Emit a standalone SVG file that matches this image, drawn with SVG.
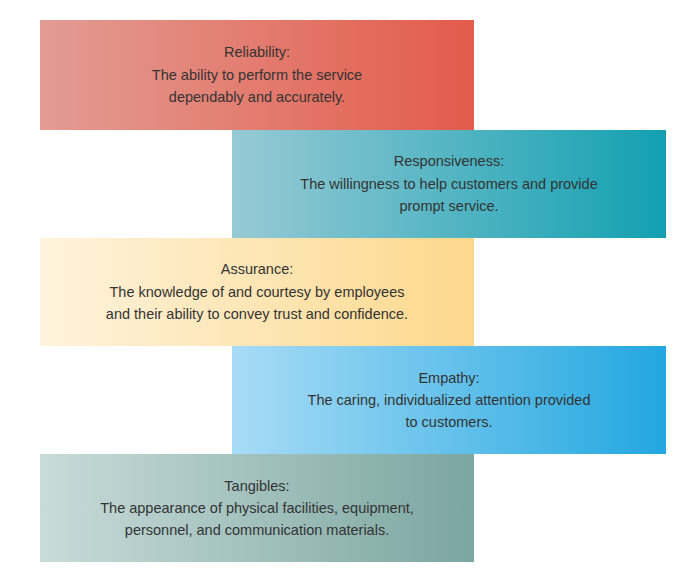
<svg xmlns="http://www.w3.org/2000/svg" width="673" height="572" viewBox="0 0 673 572">
<defs>
<linearGradient id="g1"><stop offset="0" stop-color="#e39c93"/><stop offset="1" stop-color="#e35b4b"/></linearGradient>
<linearGradient id="g2"><stop offset="0" stop-color="#97cad5"/><stop offset="1" stop-color="#12a0b1"/></linearGradient>
<linearGradient id="g3"><stop offset="0" stop-color="#fef3dc"/><stop offset="1" stop-color="#fdd88c"/></linearGradient>
<linearGradient id="g4"><stop offset="0" stop-color="#a8dcf6"/><stop offset="1" stop-color="#22a7e0"/></linearGradient>
<linearGradient id="g5"><stop offset="0" stop-color="#c8dbd9"/><stop offset="1" stop-color="#7ba6a1"/></linearGradient>
</defs>
<style>text{font-family:"Liberation Sans",Arial,sans-serif;font-size:14.5px;fill:#333;text-anchor:middle}</style>
<rect width="673" height="572" fill="#fff"/>
<g id="reliability"><rect x="40" y="20" width="434" height="110" fill="url(#g1)"/>
<text x="257" y="57">Reliability:</text><text x="257" y="80">The ability to perform the service</text><text x="257" y="102">dependably and accurately.</text></g>
<g id="responsiveness"><rect x="232" y="130" width="434" height="108" fill="url(#g2)"/>
<text x="449" y="166">Responsiveness:</text><text x="449" y="189">The willingness to help customers and provide</text><text x="449" y="211">prompt service.</text></g>
<g id="assurance"><rect x="40" y="238" width="434" height="108" fill="url(#g3)"/>
<text x="257" y="274">Assurance:</text><text x="257" y="297">The knowledge of and courtesy by employees</text><text x="257" y="319">and their ability to convey trust and confidence.</text></g>
<g id="empathy"><rect x="232" y="346" width="434" height="108" fill="url(#g4)"/>
<text x="449" y="383">Empathy:</text><text x="449" y="405">The caring, individualized attention provided</text><text x="449" y="427">to customers.</text></g>
<g id="tangibles"><rect x="40" y="454" width="434" height="108" fill="url(#g5)"/>
<text x="257" y="491">Tangibles:</text><text x="257" y="513">The appearance of physical facilities, equipment,</text><text x="257" y="535">personnel, and communication materials.</text></g>
<g id="connectors"/>
</svg>
